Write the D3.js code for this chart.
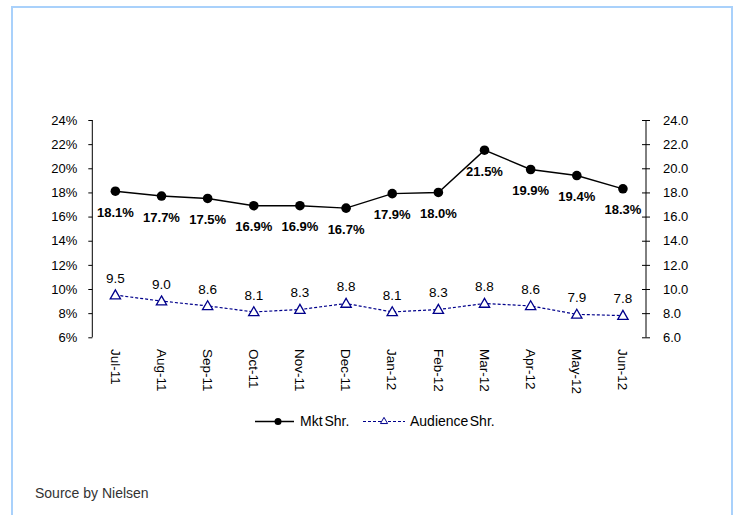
<!DOCTYPE html>
<html>
<head>
<meta charset="utf-8">
<script src="https://cdn.jsdelivr.net/npm/d3@7"></script>
<style>
  html, body { margin: 0; padding: 0; background: #fff; }
  svg { display: block; font-family: "Liberation Sans", Arial, sans-serif; }
</style>
</head>
<body>
<svg id="chart" width="740" height="515"></svg>
<script>
// Monthly categories
const months = ["Jul-11", "Aug-11", "Sep-11", "Oct-11", "Nov-11", "Dec-11",
                "Jan-12", "Feb-12", "Mar-12", "Apr-12", "May-12", "Jun-12"];
// Market share (%) – left axis
const mktShare = [18.1, 17.7, 17.5, 16.9, 16.9, 16.7, 17.9, 18.0, 21.5, 19.9, 19.4, 18.3];
// Audience share – right axis
const audShare = [9.5, 9.0, 8.6, 8.1, 8.3, 8.8, 8.1, 8.3, 8.8, 8.6, 7.9, 7.8];
// Axis ticks
const leftTicks = [6, 8, 10, 12, 14, 16, 18, 20, 22, 24];
const rightTicks = [6, 8, 10, 12, 14, 16, 18, 20, 22, 24];
const seriesNames = ["Mkt Shr.", "Audience Shr."];

const svg = d3.select("#chart");
const navy = "#00008b";

// Outer frame
svg.append("rect")
  .attr("x", 12).attr("y", 7)
  .attr("width", 720).attr("height", 520)
  .attr("fill", "none")
  .attr("stroke", "#a9d1fb")
  .attr("stroke-width", 2);

const plot = { left: 92.3, right: 646, top: 120, bottom: 337.3 };

const x = d3.scaleBand().domain(months).range([plot.left, plot.right]);
const cx = d => x(d) + x.bandwidth() / 2;
const yL = d3.scaleLinear().domain([6, 24]).range([plot.bottom, plot.top]);
const yR = d3.scaleLinear().domain([6, 24]).range([plot.bottom, plot.top]);

// Left axis
const leftAxis = svg.append("g")
  .attr("transform", `translate(${plot.left},0)`)
  .call(d3.axisLeft(yL).tickValues(leftTicks).tickSize(4).tickPadding(11)
    .tickFormat(d => d + "%"));
// Right axis
const rightAxis = svg.append("g")
  .attr("transform", `translate(${plot.right},0)`)
  .call(d3.axisRight(yR).tickValues(rightTicks).tickSize(4).tickPadding(13)
    .tickFormat(d3.format(".1f")));
rightAxis.selectAll(".tick line").attr("x1", -4);

[leftAxis, rightAxis].forEach(g => {
  g.select(".domain").attr("d", `M0,${plot.top}V${plot.bottom}`).attr("stroke", "#000");
  g.selectAll(".tick line").attr("stroke", "#000");
  g.selectAll("text").attr("font-size", 13).attr("fill", "#000")
    .attr("font-family", "'Liberation Sans', Arial, sans-serif");
});

// Month labels, rotated to read top-to-bottom
svg.append("g").selectAll("text")
  .data(months).join("text")
  .attr("transform", d => `translate(${cx(d)},349) rotate(90)`)
  .attr("dy", "0.35em")
  .attr("font-size", 13.5)
  .attr("fill", "#000")
  .text(d => d);

// Market share line
const mktData = months.map((m, i) => ({ m, v: mktShare[i] }));
svg.append("path")
  .datum(mktData)
  .attr("fill", "none")
  .attr("stroke", "#000")
  .attr("stroke-width", 1.4)
  .attr("d", d3.line().x(d => cx(d.m)).y(d => yL(d.v)));
svg.append("g").selectAll("circle")
  .data(mktData).join("circle")
  .attr("cx", d => cx(d.m)).attr("cy", d => yL(d.v))
  .attr("r", 4.8).attr("fill", "#000");
svg.append("g").selectAll("text")
  .data(mktData).join("text")
  .attr("x", d => cx(d.m)).attr("y", d => yL(d.v) + 21)
  .attr("dy", "0.35em")
  .attr("text-anchor", "middle")
  .attr("font-size", 13).attr("font-weight", "bold").attr("fill", "#000")
  .text(d => d.v.toFixed(1) + "%");

// Audience share line
const audData = months.map((m, i) => ({ m, v: audShare[i] }));
svg.append("path")
  .datum(audData)
  .attr("fill", "none")
  .attr("stroke", navy)
  .attr("stroke-width", 1.2)
  .attr("stroke-dasharray", "3,2")
  .attr("d", d3.line().x(d => cx(d.m)).y(d => yR(d.v)));
const tri = d3.symbol().type(d3.symbolTriangle).size(46);
svg.append("g").selectAll("path")
  .data(audData).join("path")
  .attr("transform", d => `translate(${cx(d.m)},${yR(d.v) + 0.8})`)
  .attr("d", tri)
  .attr("fill", "#fff").attr("stroke", navy).attr("stroke-width", 1.3);
svg.append("g").selectAll("text")
  .data(audData).join("text")
  .attr("x", d => cx(d.m)).attr("y", d => yR(d.v) - 17)
  .attr("dy", "0.35em")
  .attr("text-anchor", "middle")
  .attr("font-size", 13.5).attr("fill", "#000")
  .text(d => d.v.toFixed(1));

// Legend
const legY = 421.5;
const leg = svg.append("g");
leg.append("line").attr("x1", 255).attr("x2", 294).attr("y1", legY).attr("y2", legY)
  .attr("stroke", "#000").attr("stroke-width", 1.4);
leg.append("circle").attr("cx", 278).attr("cy", legY).attr("r", 3.5).attr("fill", "#000");
leg.append("text").attr("x", 300).attr("y", legY).attr("dy", "0.35em")
  .attr("font-size", 14).attr("word-spacing", "-2px").text(seriesNames[0]);
leg.append("line").attr("x1", 363).attr("x2", 405).attr("y1", legY).attr("y2", legY)
  .attr("stroke", navy).attr("stroke-width", 1).attr("stroke-dasharray", "3,2");
leg.append("path").attr("transform", `translate(384,${legY})`)
  .attr("d", d3.symbol().type(d3.symbolTriangle).size(22))
  .attr("fill", "#fff").attr("stroke", navy).attr("stroke-width", 1);
leg.append("text").attr("x", 410).attr("y", legY).attr("dy", "0.35em")
  .attr("font-size", 14).attr("word-spacing", "-2.5px").text(seriesNames[1]);

// Source note
svg.append("text").attr("x", 35).attr("y", 493.5).attr("dy", "0.35em")
  .attr("font-size", 14).attr("fill", "#333").text("Source by Nielsen");
</script>
</body>
</html>
